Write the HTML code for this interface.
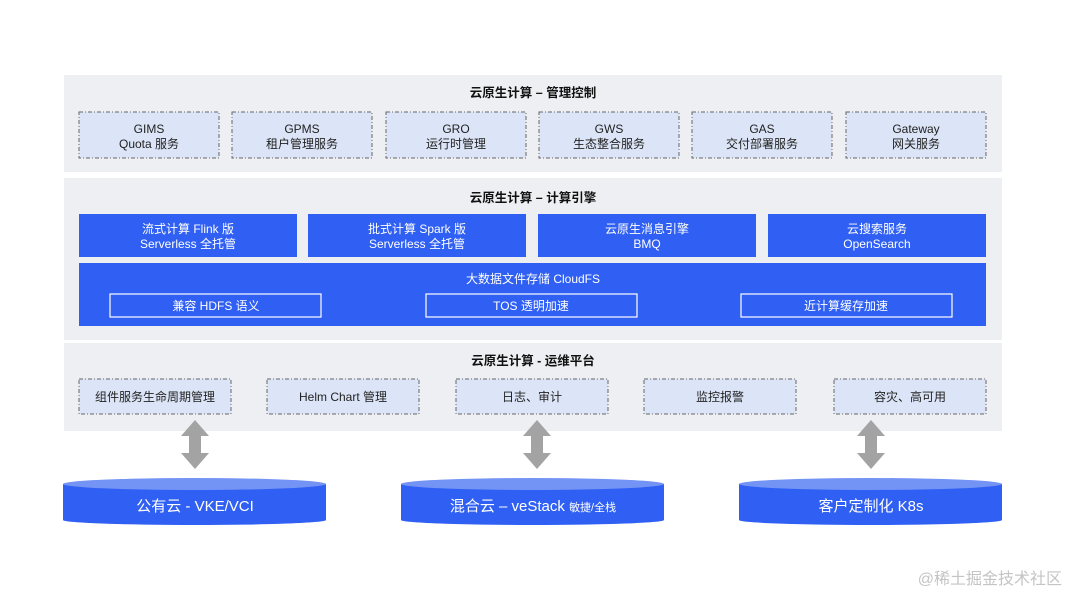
<!DOCTYPE html>
<html><head><meta charset="utf-8"><style>
html,body{margin:0;padding:0;background:#fff;}
svg{display:block;}
text{font-family:"Liberation Sans","Noto Sans CJK SC",sans-serif;}
</style></head><body>
<svg width="1080" height="608" viewBox="0 0 1080 608" xmlns="http://www.w3.org/2000/svg">
<rect width="1080" height="608" fill="#fff"/>
<!-- panels -->
<rect x="64" y="75" width="938" height="97" fill="#eeeff2"/>
<rect x="64" y="178" width="938" height="162" fill="#eeeff2"/>
<rect x="64" y="343" width="938" height="88" fill="#eeeff2"/>
<g font-size="12.5" font-weight="bold" fill="#111" text-anchor="middle">
<text x="533" y="97">云原生计算 – 管理控制</text>
<text x="533" y="202">云原生计算 – 计算引擎</text>
<text x="533" y="365">云原生计算 - 运维平台</text>
</g>
<!-- row1 dashed boxes -->
<g fill="#dce5f7" stroke="#666" stroke-width="1" stroke-dasharray="4,2,1,2">
<rect x="79" y="112" width="140" height="46"/>
<rect x="232" y="112" width="140" height="46"/>
<rect x="386" y="112" width="140" height="46"/>
<rect x="539" y="112" width="140" height="46"/>
<rect x="692" y="112" width="140" height="46"/>
<rect x="846" y="112" width="140" height="46"/>
</g>
<g font-size="12" fill="#222" text-anchor="middle">
<text x="149" y="133">GIMS</text><text x="149" y="148">Quota 服务</text>
<text x="302" y="133">GPMS</text><text x="302" y="148">租户管理服务</text>
<text x="456" y="133">GRO</text><text x="456" y="148">运行时管理</text>
<text x="609" y="133">GWS</text><text x="609" y="148">生态整合服务</text>
<text x="762" y="133">GAS</text><text x="762" y="148">交付部署服务</text>
<text x="916" y="133">Gateway</text><text x="916" y="148">网关服务</text>
</g>
<!-- compute engine -->
<g fill="#2f5ff3">
<rect x="79" y="214" width="218" height="43"/>
<rect x="308" y="214" width="218" height="43"/>
<rect x="538" y="214" width="218" height="43"/>
<rect x="768" y="214" width="218" height="43"/>
<rect x="79" y="263" width="907" height="63"/>
</g>
<g font-size="12" fill="#fff" text-anchor="middle">
<text x="188" y="233">流式计算 Flink 版</text><text x="188" y="248">Serverless 全托管</text>
<text x="417" y="233">批式计算 Spark 版</text><text x="417" y="248">Serverless 全托管</text>
<text x="647" y="233">云原生消息引擎</text><text x="647" y="248">BMQ</text>
<text x="877" y="233">云搜索服务</text><text x="877" y="248">OpenSearch</text>
<text x="533" y="283">大数据文件存储 CloudFS</text>
<text x="216" y="310">兼容 HDFS 语义</text>
<text x="531" y="310">TOS 透明加速</text>
<text x="846" y="310">近计算缓存加速</text>
</g>
<g fill="none" stroke="#fff" stroke-width="1.2">
<rect x="110" y="294" width="211" height="23"/>
<rect x="426" y="294" width="211" height="23"/>
<rect x="741" y="294" width="211" height="23"/>
</g>
<!-- ops -->
<g fill="#dce5f7" stroke="#666" stroke-width="1" stroke-dasharray="4,2,1,2">
<rect x="79" y="379" width="152" height="35"/>
<rect x="267" y="379" width="152" height="35"/>
<rect x="456" y="379" width="152" height="35"/>
<rect x="644" y="379" width="152" height="35"/>
<rect x="834" y="379" width="152" height="35"/>
</g>
<g font-size="12" fill="#222" text-anchor="middle">
<text x="155" y="401">组件服务生命周期管理</text>
<text x="343" y="401">Helm Chart 管理</text>
<text x="532" y="401">日志、审计</text>
<text x="720" y="401">监控报警</text>
<text x="910" y="401">容灾、高可用</text>
</g>
<!-- arrows -->
<g fill="#a3a3a3">
<path d="M195 420 L209 436 L201 436 L201 453 L209 453 L195 469 L181 453 L189 453 L189 436 L181 436 Z"/>
<path d="M537 420 L551 436 L543 436 L543 453 L551 453 L537 469 L523 453 L531 453 L531 436 L523 436 Z"/>
<path d="M871 420 L885 436 L877 436 L877 453 L885 453 L871 469 L857 453 L865 453 L865 436 L857 436 Z"/>
</g>
<!-- cylinders -->
<g>
<path d="M63 484 L63 520 A131.5 5 0 0 0 326 520 L326 484 Z" fill="#2f5ff3"/>
<ellipse cx="194.5" cy="484" rx="131.5" ry="6" fill="#7393f5"/>
<path d="M401 484 L401 520 A131.5 5 0 0 0 664 520 L664 484 Z" fill="#2f5ff3"/>
<ellipse cx="532.5" cy="484" rx="131.5" ry="6" fill="#7393f5"/>
<path d="M739 484 L739 520 A131.5 5 0 0 0 1002 520 L1002 484 Z" fill="#2f5ff3"/>
<ellipse cx="870.5" cy="484" rx="131.5" ry="6" fill="#7393f5"/>
</g>
<g font-size="15" fill="#fff" text-anchor="middle">
<text x="195" y="511">公有云 - VKE/VCI</text>
<text x="533" y="511">混合云 – veStack <tspan font-size="11">敏捷/全栈</tspan></text>
<text x="871" y="511">客户定制化 K8s</text>
</g>
<text x="1062" y="584" font-size="16" fill="#c4c4c4" text-anchor="end">@稀土掘金技术社区</text>
</svg>
</body></html>
